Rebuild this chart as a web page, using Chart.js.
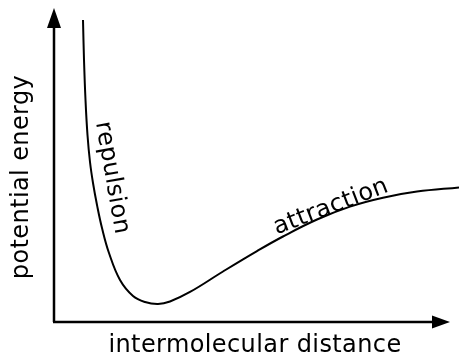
<!DOCTYPE html>
<html>
<head>
<meta charset="utf-8">
<script src="https://cdn.jsdelivr.net/npm/chart.js@4"></script>
<style>
  html, body { margin: 0; padding: 0; background: white; }
</style>
</head>
<body>
<canvas id="potencial" width="459" height="356"></canvas>
<script>
// curva de energia potencial (unidades arbitrárias)
const distance = [0.716, 0.741, 0.778, 0.827, 0.889, 0.963, 1.062, 1.185, 1.358, 1.630, 1.951, 2.247, 2.568, 2.864, 3.358, 4.173, 5.012, 5.654, 6.494, 7.309, 8.123, 8.963, 10.0]
const energy = [9.742, 8.452, 7.161, 6.032, 5.161, 4.484, 3.774, 3.032, 2.226, 1.355, 0.839, 0.645, 0.581, 0.661, 0.968, 1.629, 2.287, 2.758, 3.306, 3.723, 4.010, 4.206, 4.342]

const xTitle = 'intermolecular distance'
const yTitle = 'potential energy'

// rótulos ao longo da curva: texto, posição (dados), ângulo
const curveLabels = ['repulsion', 'attraction']
const labelX = [1.43, 6.84]
const labelY = [4.65, 3.71]
const labelAngle = [80, -21]

const FONT = '24px "DejaVu Sans", sans-serif'
const SPACING = '0.4px'

const eixos = {
  id: 'eixos',
  afterDraw(chart) {
    const c = chart.ctx
    const a = chart.chartArea
    const xs = chart.scales.x, ys = chart.scales.y
    c.save()
    c.strokeStyle = 'black'
    c.fillStyle = 'black'
    c.lineWidth = 2.5
    // eixo y
    c.beginPath()
    c.moveTo(a.left, a.bottom)
    c.lineTo(a.left, a.top + 10)
    c.stroke()
    c.beginPath()
    c.moveTo(a.left, a.top - 4)
    c.lineTo(a.left - 7, a.top + 16)
    c.lineTo(a.left + 7, a.top + 16)
    c.closePath()
    c.fill()
    // eixo x
    const xEnd = a.right - 9
    c.beginPath()
    c.moveTo(a.left - 1, a.bottom)
    c.lineTo(xEnd - 12, a.bottom)
    c.stroke()
    c.beginPath()
    c.moveTo(xEnd, a.bottom)
    c.lineTo(xEnd - 18, a.bottom - 6.5)
    c.lineTo(xEnd - 18, a.bottom + 6.5)
    c.closePath()
    c.fill()

    // títulos
    c.font = FONT
    c.letterSpacing = SPACING
    c.textAlign = 'center'
    c.textBaseline = 'alphabetic'
    c.fillText(xTitle, 255, a.bottom + 30)
    c.save()
    c.translate(28, 177)
    c.rotate(-Math.PI / 2)
    c.fillText(yTitle, 0, 0)
    c.restore()

    // rótulos da curva
    c.textBaseline = 'middle'
    curveLabels.forEach((t, i) => {
      c.save()
      c.translate(xs.getPixelForValue(labelX[i]), ys.getPixelForValue(labelY[i]))
      c.rotate(labelAngle[i] * Math.PI / 180)
      c.fillText(t, 0, 0)
      c.restore()
    })
    c.restore()
  }
}

const data = {
  datasets: [{
    data: distance.map((d, i) => ({ x: d, y: energy[i] })),
    borderColor: 'black',
    borderWidth: 2,
    pointRadius: 0,
    tension: 0.4,
    fill: false
  }]
}

const config = {
  type: 'line',
  data,
  options: {
    responsive: false,
    animation: false,
    clip: false,
    layout: { padding: { left: 54, right: 0, top: 12, bottom: 34 } },
    plugins: { legend: { display: false }, tooltip: { enabled: false } },
    scales: {
      x: { type: 'linear', min: 0, max: 10, display: false },
      y: { min: 0, max: 10, display: false }
    }
  },
  plugins: [eixos]
}

const graph = new Chart(document.getElementById('potencial'), config)
</script>
</body>
</html>
